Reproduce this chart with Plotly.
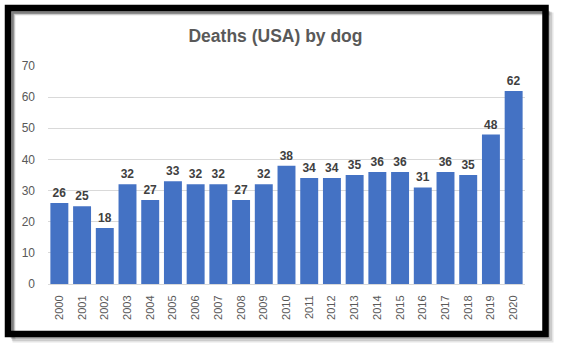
import plotly.graph_objects as go

years = [str(y) for y in range(2000, 2021)]
deaths = [26, 25, 18, 32, 27, 33, 32, 32, 27, 32, 38, 34, 34, 35, 36, 36, 31, 36, 35, 48, 62]
y_ticks = [0, 10, 20, 30, 40, 50, 60, 70]

W, H = 561, 350
L, R, T, B = 48, 525, 66, 284  # plot area pixels


def px(x):
    return (x - L) / (R - L)


def py(y):
    return (B - y) / (B - T)


fig = go.Figure()
fig.add_trace(go.Bar(
    x=years, y=deaths, marker_color="#4472C4", marker_line_width=0,
    text=deaths, textposition="outside", cliponaxis=False,
    textfont=dict(family="Liberation Sans", size=12, color="#404040", weight="bold"),
))

shapes = []
# soft shadow
for i, op in enumerate([0.10, 0.14, 0.18, 0.25]):
    off = 4 - i * 0.7
    shapes.append(dict(type="rect", xref="paper", yref="paper",
                       x0=px(8 + off + 2), x1=px(546 + off + 2 - i),
                       y0=py(8 + off + 2), y1=py(335 + off + 2 - i),
                       line=dict(color=f"rgba(0,0,0,{op})", width=3), layer="below"))
shapes.append(dict(type="rect", xref="paper", yref="paper",
                   x0=px(8), x1=px(545.5), y0=py(8), y1=py(334),
                   line=dict(color="black", width=6.5), layer="above"))

fig.update_layout(
    width=W, height=H,
    margin=dict(l=L, r=W - R, t=T, b=H - B),
    paper_bgcolor="white", plot_bgcolor="white",
    bargap=0.21,
    showlegend=False,
    title=dict(text="<b>Deaths (USA) by dog</b>", x=275.5 / W, xref="container",
               y=1 - 36 / H, yref="container", xanchor="center", yanchor="middle",
               font=dict(family="Liberation Sans", size=17.5, color="#595959")),
    xaxis=dict(tickangle=-90, tickfont=dict(family="Liberation Sans", size=11, color="#595959"),
               showgrid=False, showline=True, linecolor="#D9D9D9", linewidth=1,
               ticks="", ticklabelstandoff=6),
    yaxis=dict(range=[0, 70], tickvals=y_ticks, showgrid=True, gridcolor="#D9D9D9",
               gridwidth=1, zeroline=False, showline=False, ticks="",
               tickfont=dict(family="Liberation Sans", size=12, color="#595959"),
               ticklabelstandoff=12),
    shapes=shapes,
)

fig.write_html("out.html")
